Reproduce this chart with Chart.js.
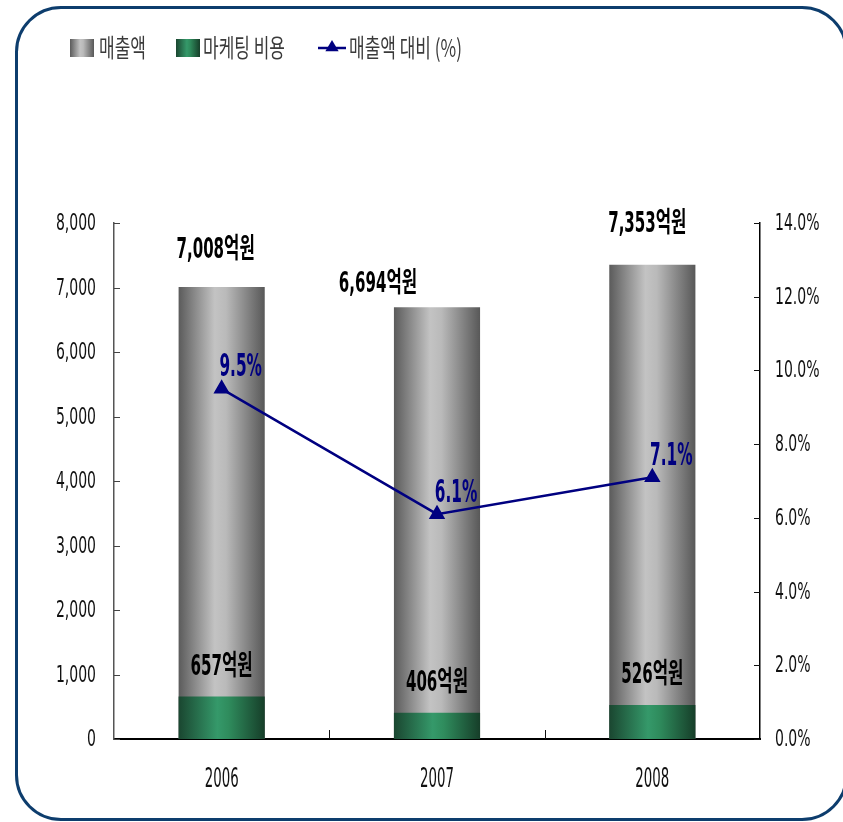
<!DOCTYPE html>
<html>
<head>
<meta charset="utf-8">
<script src="https://cdn.jsdelivr.net/npm/chart.js@4.4.0/dist/chart.umd.min.js"></script>
<style>
html, body { margin: 0; padding: 0; background: #fff; overflow: hidden; }
#wrap { position: relative; width: 843px; height: 822px; }
#myChart { position: absolute; left: 0; top: 0; }
#card {
    position: absolute; left: 15px; top: 6px;
    width: 827px; height: 809px;
    border: 3px solid #0d3d6d; border-radius: 46px;
    pointer-events: none;
}
</style>
</head>
<body>
<div id="wrap">
    <canvas id="myChart" width="843" height="822"></canvas>
    <div id="card"></div>
</div>
<script>
const years = ['2006', '2007', '2008'];
const sales = [7008, 6694, 7353];
const marketing = [657, 406, 526];
const salesRatio = [9.5, 6.1, 7.1];
const leftTicks = [0, 1000, 2000, 3000, 4000, 5000, 6000, 7000, 8000];
const rightTicks = [0, 2, 4, 6, 8, 10, 12, 14];

const narrow = "'Liberation Sans Narrow', 'Arial Narrow', 'DejaVu Sans Condensed', 'Noto Sans CJK KR', sans-serif";
const korean = "'Noto Sans CJK KR', 'Noto Sans', sans-serif";

const grayStops = [[0, '#5b5b5b'], [0.42, '#c3c3c3'], [0.55, '#bababa'], [1, '#585858']];
const greenStops = [[0, '#1a4630'], [0.45, '#35996a'], [0.58, '#2f8c5d'], [1, '#163e29']];

function shade(c, x0, x1, stops) {
    const g = c.createLinearGradient(x0, 0, x1, 0);
    stops.forEach(s => g.addColorStop(s[0], s[1]));
    return g;
}

function barFill(stops) {
    return (context) => {
        const chart = context.chart;
        const x = chart.scales.x;
        if (context.type !== 'data' || !x || !chart.chartArea) return stops[1][1];
        const mid = x.getPixelForValue(context.dataIndex);
        const w = x.width / years.length * 0.4;
        return shade(chart.ctx, mid - w / 2, mid + w / 2, stops);
    };
}

function drawText(c, str, x, y, o) {
    c.save();
    c.translate(x, y);
    c.scale(o.sx || 1, o.sy || 1);
    c.font = (o.weight || 'normal') + ' ' + o.size + 'px ' + (o.family || narrow);
    c.fillStyle = o.color || '#111';
    c.textAlign = o.align || 'center';
    c.textBaseline = 'middle';
    c.fillText(str, 0, 0);
    c.restore();
}

function line(c, x1, y1, x2, y2) {
    c.beginPath();
    c.moveTo(x1, y1);
    c.lineTo(x2, y2);
    c.stroke();
}

function triangle(c, cx, cy, r) {
    c.beginPath();
    c.moveTo(cx, cy - r);
    c.lineTo(cx + r * 0.95, cy + r * 0.6);
    c.lineTo(cx - r * 0.95, cy + r * 0.6);
    c.closePath();
    c.fill();
}

// ticks, tick labels, value labels and legend
const decorPlugin = {
    id: 'decor',
    afterDraw(chart, args, opts) {
        const c = chart.ctx;
        const { x, y, y2 } = chart.scales;
        const area = chart.chartArea;
        const tick = { size: 19, sx: 0.82, sy: 1.2 };

        c.save();
        c.lineWidth = 1;
        c.strokeStyle = '#444';
        leftTicks.forEach(v => {
            const py = Math.round(y.getPixelForValue(v)) + 0.5;
            line(c, area.left, py, area.left + 6, py);
            drawText(c, v.toLocaleString('en-US'), area.left - 18, py + 1, { ...tick, align: 'right' });
        });
        c.strokeStyle = '#111';
        rightTicks.forEach(v => {
            const py = Math.round(y2.getPixelForValue(v)) + 0.5;
            line(c, area.right, py, area.right - 6, py);
            drawText(c, v.toFixed(1) + '%', area.right + 15, py + 1, { ...tick, align: 'left' });
        });
        const cat = x.width / years.length;
        years.forEach((yr, i) => {
            const px = x.getPixelForValue(i);
            if (i > 0) {
                const bx = Math.round(px - cat / 2) + 0.5;
                line(c, bx, area.bottom, bx, area.bottom - 9);
            }
            drawText(c, yr, px, area.bottom + 41, { size: 19, sx: 0.78, sy: 1.4 });
        });

        // value labels
        const bold = { size: 22, weight: 'bold', sx: 0.76, sy: 1.27, color: '#000' };
        sales.forEach((v, i) => {
            const off = opts.salesOffsets[i];
            drawText(c, v.toLocaleString('en-US') + '억원',
                x.getPixelForValue(i) + off[0], y.getPixelForValue(v) + off[1], bold);
        });
        marketing.forEach((v, i) => {
            drawText(c, v.toLocaleString('en-US') + '억원',
                x.getPixelForValue(i), y.getPixelForValue(v) - 29, bold);
        });
        salesRatio.forEach((v, i) => {
            drawText(c, v.toFixed(1) + '%',
                x.getPixelForValue(i) + 19, y2.getPixelForValue(v) - 21,
                { size: 24, weight: 'bold', sx: 0.71, sy: 1.36, color: '#000080' });
        });

        // legend
        const ds = chart.data.datasets;
        const legendY = 48;
        const leg = { size: 17, sx: 1.0, sy: 1.45, align: 'left', family: korean, color: '#3a3a3a' };
        c.fillStyle = shade(c, 70, 94, grayStops);
        c.fillRect(70, legendY - 9, 24, 18);
        drawText(c, ds[0].label, 99, legendY, leg);
        c.fillStyle = shade(c, 176, 200, greenStops);
        c.fillRect(176, legendY - 9, 24, 18);
        drawText(c, ds[1].label, 203, legendY, leg);
        c.strokeStyle = '#000080';
        c.fillStyle = '#000080';
        c.lineWidth = 2.5;
        line(c, 318, legendY, 346, legendY);
        triangle(c, 332, legendY - 1, 7);
        drawText(c, ds[2].label, 349, legendY, leg);
        c.restore();
    }
};

const ctx = document.getElementById('myChart');

new Chart(ctx, {
    type: 'bar',
    data: {
        labels: years,
        datasets: [{
            label: '매출액',
            data: sales,
            backgroundColor: barFill(grayStops),
            yAxisID: 'y',
            categoryPercentage: 1,
            barPercentage: 0.4,
            order: 3
        }, {
            label: '마케팅 비용',
            data: marketing,
            backgroundColor: barFill(greenStops),
            yAxisID: 'y',
            categoryPercentage: 1,
            barPercentage: 0.4,
            order: 2
        }, {
            type: 'line',
            label: '매출액 대비 (%)',
            data: salesRatio,
            yAxisID: 'y2',
            borderColor: '#000080',
            backgroundColor: '#000080',
            borderWidth: 2.5,
            pointStyle: 'triangle',
            pointRadius: 7,
            pointBackgroundColor: '#000080',
            pointBorderColor: '#000080',
            tension: 0,
            order: 1
        }]
    },
    options: {
        responsive: false,
        animation: false,
        layout: {
            padding: { left: 44, right: 13, top: 223, bottom: 23 }
        },
        plugins: {
            legend: { display: false },
            tooltip: { enabled: false },
            decor: {
                salesOffsets: [[-6, -36], [-59, -22], [-5, -40]]
            }
        },
        scales: {
            x: {
                stacked: true,
                grid: { display: false },
                border: { display: true, color: '#000', width: 2 },
                ticks: { display: false },
                afterFit: (scale) => { scale.height = 60; }
            },
            y: {
                position: 'left',
                min: 0,
                max: 8000,
                grid: { display: false },
                border: { display: true, color: '#555', width: 1.5 },
                ticks: { display: false },
                afterBuildTicks: (scale) => { scale.ticks = leftTicks.map(v => ({ value: v })); },
                afterFit: (scale) => { scale.width = 70; }
            },
            y2: {
                position: 'right',
                min: 0,
                max: 14,
                grid: { display: false },
                border: { display: true, color: '#000', width: 1.5 },
                ticks: { display: false },
                afterBuildTicks: (scale) => { scale.ticks = rightTicks.map(v => ({ value: v })); },
                afterFit: (scale) => { scale.width = 70; }
            }
        }
    },
    plugins: [decorPlugin]
});
</script>
</body>
</html>
